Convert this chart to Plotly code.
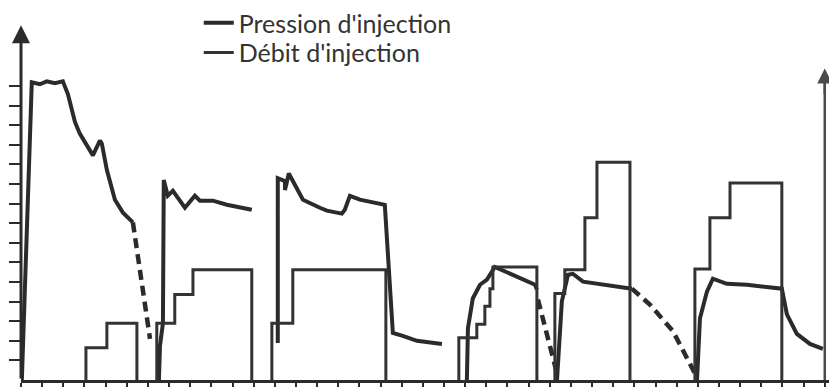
import plotly.graph_objects as go

# ---- data (x in time ticks, y in axis ticks) ----
# Pression d'injection: solid segments
p1_x = [0.04, 0.51, 0.89, 1.22, 1.60, 1.98, 2.22, 2.55, 2.78, 3.40, 3.73, 3.82, 4.06, 4.44, 4.82, 5.29]
p1_y = [0.0, 15.19, 15.09, 15.24, 15.14, 15.24, 14.58, 13.17, 12.57, 11.46, 12.22, 12.07, 10.71, 9.20, 8.54, 8.04]
p2_x = [6.52, 6.57, 6.71, 6.75, 6.94, 7.18, 7.75, 8.22, 8.46, 9.07, 9.73, 10.35, 10.91]
p2_y = [0.0, 1.74, 2.90, 10.20, 9.40, 9.65, 8.79, 9.40, 9.15, 9.15, 8.94, 8.79, 8.69]
p3_x = [12.14, 12.14, 12.48, 12.48, 12.66, 13.33, 14.13, 14.46, 15.17, 15.31, 15.55, 16.02, 17.20, 17.58, 18.05, 18.72, 19.90]
p3_y = [1.89, 10.30, 10.15, 9.69, 10.54, 9.20, 8.79, 8.64, 8.49, 8.69, 9.40, 9.20, 8.94, 2.40, 2.25, 2.00, 1.84]
p4_x = [21.08, 21.13, 21.36, 21.70, 22.03, 22.31, 22.40, 24.30, 24.39]
p4_y = [0.0, 2.65, 4.16, 4.86, 5.12, 5.67, 5.77, 4.86, 4.61]
p5_x = [25.34, 25.57, 25.86, 26.09, 26.57, 27.70, 28.88]
p5_y = [0.0, 4.01, 5.37, 5.42, 5.02, 4.86, 4.66]
p6_x = [31.96, 32.10, 32.43, 32.71, 33.37, 34.32, 35.97, 36.21, 36.68, 37.30, 37.91]
p6_y = [0.0, 3.15, 4.51, 5.17, 4.91, 4.86, 4.66, 3.35, 2.35, 1.84, 1.59]

# Pression d'injection: dashed (decline) segments
d1_x = [5.29, 6.10]
d1_y = [8.04, 2.10]
d4_x = [24.44, 25.34]
d4_y = [4.11, 0.33]
d5_x = [28.88, 29.73, 30.82, 31.96]
d5_y = [4.66, 3.85, 2.50, 0.13]

# Débit d'injection: step outlines
q1_x = [3.07, 3.07, 4.06, 4.06, 5.48, 5.48]
q1_y = [0.0, 1.64, 1.64, 2.90, 2.90, 0.0]
q2_x = [6.42, 6.42, 7.27, 7.27, 8.13, 8.13, 10.91, 10.91]
q2_y = [0.0, 2.90, 2.90, 4.36, 4.36, 5.62, 5.62, 0.0]
q3_x = [11.86, 11.86, 12.85, 12.85, 17.25, 17.25]
q3_y = [0.0, 2.90, 2.90, 5.62, 5.62, 0.0]
q4_x = [20.70, 20.70, 21.55, 21.55, 21.93, 21.93, 22.17, 22.17, 22.31, 22.31, 24.39, 24.39]
q4_y = [0.0, 2.15, 2.15, 2.85, 2.85, 3.76, 3.76, 4.66, 4.66, 5.77, 5.77, 0.0]
q5_x = [25.24, 25.24, 25.71, 25.71, 26.66, 26.66, 27.23, 27.23, 28.79, 28.79]
q5_y = [0.0, 4.41, 4.41, 5.62, 5.62, 8.28, 8.28, 11.11, 11.11, 0.0]
q6_x = [31.86, 31.86, 32.57, 32.57, 33.52, 33.52, 35.97, 35.97]
q6_y = [0.0, 5.67, 5.67, 8.28, 8.28, 10.05, 10.05, 0.0]

x_ticks = list(range(0, 39))
y_ticks = list(range(1, 16))

INK = "#2b2b2b"
fig = go.Figure()

pressure = [(p1_x, p1_y), (p2_x, p2_y), (p3_x, p3_y), (p4_x, p4_y), (p5_x, p5_y), (p6_x, p6_y)]
for i, (xs, ys) in enumerate(pressure):
    fig.add_trace(go.Scatter(x=xs, y=ys, mode="lines", name="Pression d'injection",
                             legend="legend", legendgroup="p", showlegend=(i == 0),
                             line=dict(color=INK, width=4)))

for xs, ys in [(d1_x, d1_y), (d4_x, d4_y), (d5_x, d5_y)]:
    fig.add_trace(go.Scatter(x=xs, y=ys, mode="lines", legendgroup="p", showlegend=False,
                             line=dict(color=INK, width=4.5, dash="10px,6px")))

debit = [(q1_x, q1_y), (q2_x, q2_y), (q3_x, q3_y), (q4_x, q4_y), (q5_x, q5_y), (q6_x, q6_y)]
for i, (xs, ys) in enumerate(debit):
    fig.add_trace(go.Scatter(x=xs, y=ys, mode="lines", name="Débit d'injection",
                             legend="legend2", legendgroup="q", showlegend=(i == 0),
                             line=dict(color="#333333", width=3)))

# axes drawn as arrows (left and right)
fig.add_annotation(x=0, y=18.1, ax=0, ay=0, xref="x", yref="y", axref="x", ayref="y",
                   showarrow=True, arrowhead=2, arrowsize=1.2, arrowwidth=3, arrowcolor=INK, text="")
fig.add_shape(type="line", xref="x", yref="y", x0=38, x1=38, y0=0, y1=15.4,
              line=dict(color="#4a4a4a", width=2.5))
fig.add_annotation(x=38, y=15.9, ax=38, ay=14.5, xref="x", yref="y", axref="x", ayref="y",
                   showarrow=True, arrowhead=2, arrowsize=1.2, arrowwidth=2.5, arrowcolor="#4a4a4a", text="")

leg_common = dict(xanchor="left", yanchor="top", bgcolor="rgba(0,0,0,0)",
                  font=dict(size=25, family="Lato", color="#333"), itemwidth=30)

fig.update_layout(
    width=829, height=387,
    margin=dict(l=21, r=0, t=0, b=7),
    paper_bgcolor="white", plot_bgcolor="white",
    font=dict(family="Lato", color=INK),
    showlegend=True,
    legend=dict(x=0.22, y=1.014, **leg_common),
    legend2=dict(x=0.22, y=0.934, **leg_common),
    xaxis=dict(range=[0, 38.2], tickvals=x_ticks, showticklabels=False, ticks="outside",
               ticklen=8, tickwidth=2, tickcolor=INK, showgrid=False, zeroline=False,
               showline=True, linewidth=3, linecolor=INK),
    yaxis=dict(range=[0, 380 / 19.86], tickvals=y_ticks, showticklabels=False, ticks="outside",
               ticklen=11, tickwidth=2, tickcolor=INK, showgrid=False, zeroline=False,
               showline=False),
)

# remove the default page margin so the figure fills the window exactly
fig.write_html("out.html", config={"displayModeBar": False},
               post_script="document.body.style.margin='0';document.body.style.overflow='hidden';")
